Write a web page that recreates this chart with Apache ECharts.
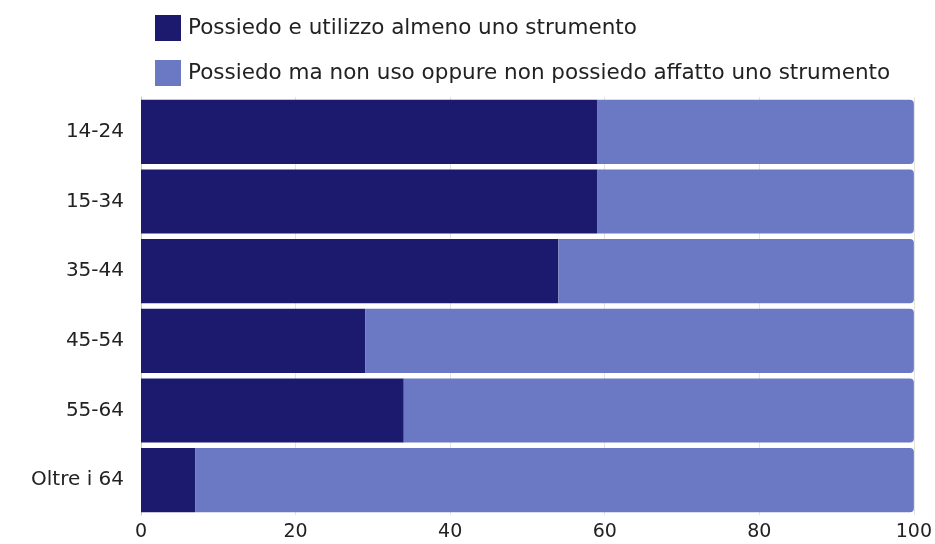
<!DOCTYPE html>
<html>
<head>
<meta charset="utf-8">
<script src="https://cdn.jsdelivr.net/npm/echarts@6/dist/echarts.min.js"></script>
<style>
  html, body { margin: 0; padding: 0; background: #fff; }
  #chart { width: 935px; height: 544px; }
</style>
</head>
<body>
<div id="chart"></div>
<script>
// Age groups, top to bottom
const categories = ['14-24', '15-34', '35-44', '45-54', '55-64', 'Oltre i 64'];
// Share that owns and uses at least one instrument (%)
const usesValues = [59, 59, 54, 29, 34, 7];
// Share that owns but doesn't use, or owns none (%)
const notUsesValues = [41, 41, 46, 71, 66, 93];
const seriesNames = [
  'Possiedo e utilizzo almeno uno strumento',
  'Possiedo ma non uso oppure non possiedo affatto uno strumento'
];
const xTicks = [0, 20, 40, 60, 80, 100];

const FONT = 'DejaVu Sans';
const chart = echarts.init(document.getElementById('chart'));
chart.setOption({
  animation: false,
  textStyle: { fontFamily: FONT },
  legend: {
    orient: 'vertical',
    left: 150,
    top: 10,
    itemWidth: 26,
    itemHeight: 26,
    itemGap: 19,
    icon: 'rect',
    data: seriesNames,
    textStyle: { fontFamily: FONT, fontSize: 21.5, color: '#222', padding: [0, 0, 0, 2] }
  },
  grid: { left: 141, right: 20, top: 97, bottom: 29, containLabel: false },
  xAxis: {
    type: 'value',
    min: xTicks[0],
    max: xTicks[xTicks.length - 1],
    interval: 20,
    axisLine: { show: false },
    axisTick: { show: false },
    splitLine: { show: true, lineStyle: { color: '#e3e3e3', width: 1 } },
    axisLabel: { fontFamily: FONT, fontSize: 19, color: '#222', margin: 8 }
  },
  yAxis: {
    type: 'category',
    inverse: true,
    data: categories,
    axisLine: { show: true, lineStyle: { color: '#c8c8c8', width: 1 } },
    axisTick: { show: false },
    axisLabel: { fontFamily: FONT, fontSize: 20, color: '#222', margin: 17 }
  },
  series: [
    {
      name: seriesNames[0],
      type: 'bar',
      stack: 'total',
      barWidth: '92%',
      itemStyle: { color: '#1b1a6e' },
      data: usesValues
    },
    {
      name: seriesNames[1],
      type: 'bar',
      stack: 'total',
      barWidth: '92%',
      itemStyle: { color: '#6b79c4', borderRadius: [0, 4, 4, 0] },
      data: notUsesValues
    }
  ]
});
</script>
</body>
</html>
